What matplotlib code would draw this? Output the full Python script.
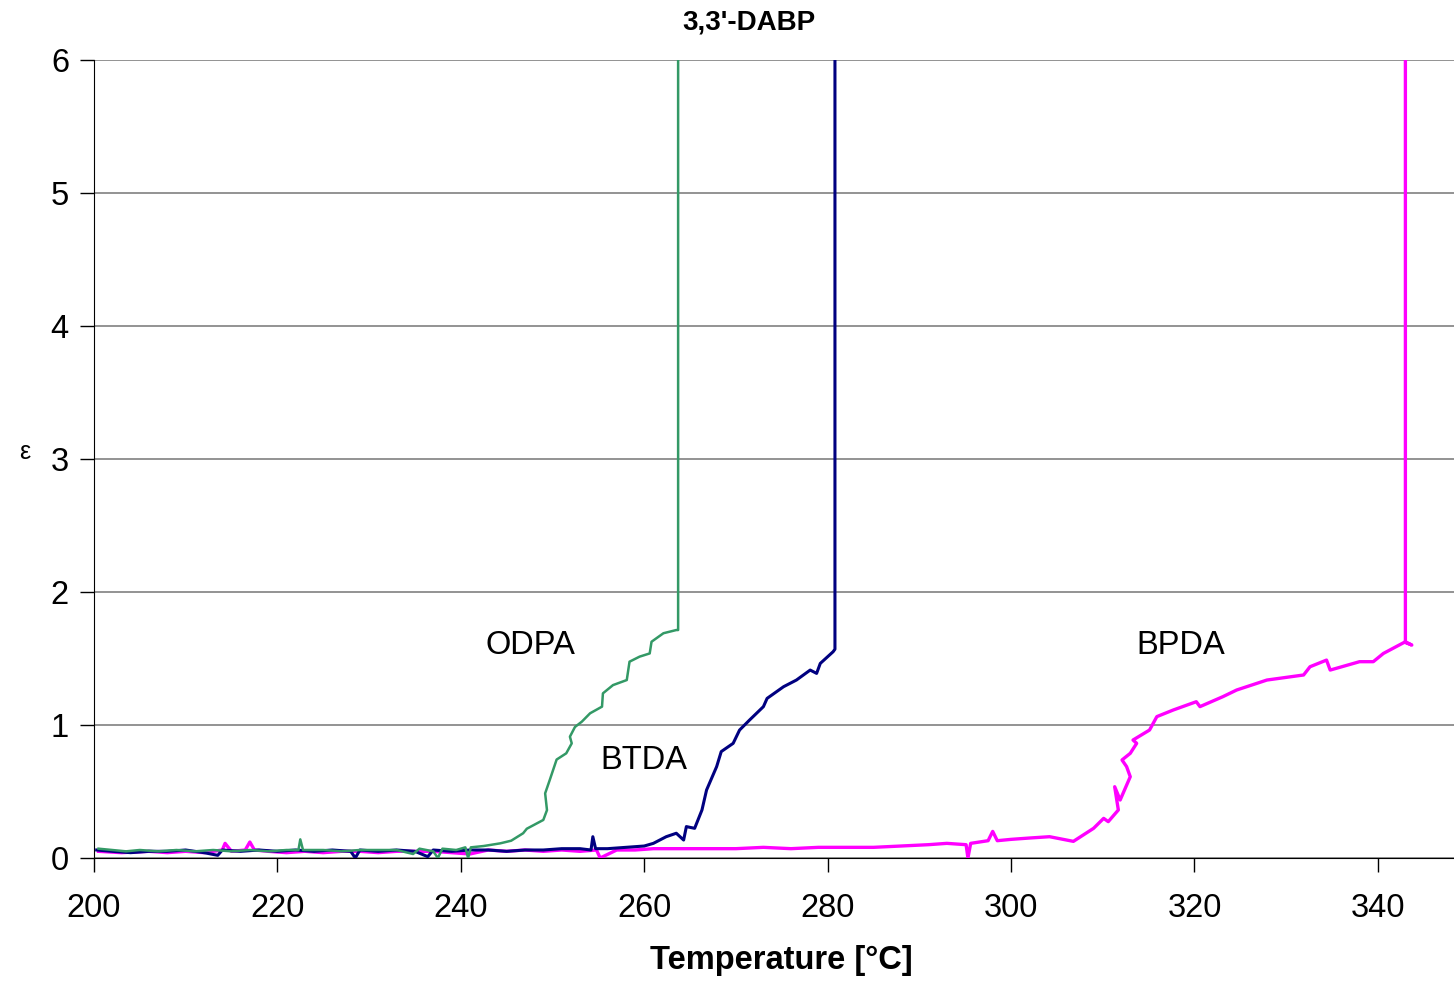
import matplotlib
matplotlib.use("Agg")
import matplotlib.pyplot as plt

# Chart data
odpa_t = [200.5, 202, 203.5, 205, 207, 209, 211, 213, 215, 217, 219, 221,
          222.3, 222.5, 222.8, 225, 227, 229, 231, 233, 234.8, 235.5, 237,
          237.5, 238, 239.5, 240.5, 240.8, 241.1, 242.5, 244.3, 245.5,
          246.8, 247.2, 249.0, 249.4, 249.2, 249.7, 250.45, 251.5, 252.1,
          251.9, 252.45, 253.2, 254.1, 255.4, 255.5, 256.6, 258.1, 258.4,
          259.5, 260.6, 260.8, 262.1, 263.5, 263.7, 263.7]
odpa_eps = [0.07, 0.06, 0.05, 0.06, 0.05, 0.06, 0.05, 0.06, 0.05, 0.06,
            0.05, 0.06, 0.06, 0.14, 0.06, 0.06, 0.05, 0.06, 0.06, 0.06,
            0.03, 0.07, 0.05, 0.0, 0.07, 0.06, 0.08, 0.0, 0.08, 0.09, 0.11,
            0.13, 0.186, 0.22, 0.286, 0.36, 0.486, 0.586, 0.74, 0.787,
            0.862, 0.912, 0.985, 1.025, 1.088, 1.138, 1.238, 1.30, 1.338,
            1.476, 1.514, 1.538, 1.626, 1.69, 1.714, 1.714, 6.5]

btda_t = [200.3, 202, 204, 206, 208, 210, 212, 213.5, 214, 216, 218, 220,
          222, 224, 226, 228, 228.5, 229, 231, 233, 235, 236.4, 237, 239,
          241, 243, 245, 247, 249, 251, 253, 254.2, 254.4, 254.7, 256, 258,
          260, 261.0, 262.4, 263.5, 264.3, 264.6, 265.5, 266.3, 266.8,
          267.9, 268.4, 269.7, 270.4, 271.5, 273.0, 273.4, 275.2, 276.6,
          278.1, 278.8, 279.2, 280.6, 280.8, 280.8]
btda_eps = [0.06, 0.05, 0.04, 0.05, 0.05, 0.06, 0.04, 0.02, 0.06, 0.05,
            0.06, 0.05, 0.06, 0.05, 0.06, 0.05, 0.0, 0.06, 0.05, 0.06, 0.05,
            0.01, 0.06, 0.05, 0.06, 0.06, 0.05, 0.06, 0.06, 0.07, 0.07, 0.06,
            0.16, 0.07, 0.07, 0.08, 0.09, 0.11, 0.16, 0.186, 0.135, 0.236,
            0.223, 0.361, 0.511, 0.687, 0.80, 0.862, 0.962, 1.038, 1.138,
            1.2, 1.288, 1.338, 1.413, 1.388, 1.463, 1.551, 1.57, 6.5]

bpda_t = [200.5, 203, 206, 208, 210, 212, 214, 214.3, 215, 216.5, 217,
          217.5, 219, 221, 223, 225, 227, 229, 231, 233, 235, 237, 239, 241,
          243, 245, 247, 249, 251, 253, 254.8, 255.2, 257, 259, 261, 263,
          265, 267, 270, 273, 276, 279, 282, 285, 288, 291, 293, 295.1,
          295.3, 295.6, 297.5, 298, 298.5, 300, 302, 304.2, 306.8, 309.0,
          310.1, 310.6, 311.7, 311.3, 311.9, 313.0, 312.6, 312.1, 313.0,
          313.7, 313.3, 315.1, 315.9, 317.7, 320.2, 320.6, 323.1, 324.6,
          327.9, 331.9, 332.6, 334.4, 334.8, 338.0, 339.5, 340.6, 343.0,
          343.7, 343.0, 343.0]
bpda_eps = [0.05, 0.04, 0.05, 0.04, 0.05, 0.04, 0.06, 0.11, 0.05, 0.06,
            0.12, 0.06, 0.05, 0.04, 0.05, 0.04, 0.05, 0.05, 0.04, 0.05,
            0.05, 0.05, 0.04, 0.03, 0.06, 0.05, 0.06, 0.05, 0.06, 0.05, 0.06,
            0.0, 0.06, 0.06, 0.07, 0.07, 0.07, 0.07, 0.07, 0.08, 0.07, 0.08,
            0.08, 0.08, 0.09, 0.1, 0.11, 0.1, 0.0, 0.11, 0.13, 0.2, 0.13,
            0.14, 0.15, 0.16, 0.125, 0.223, 0.298, 0.273, 0.361, 0.536,
            0.436, 0.611, 0.687, 0.737, 0.787, 0.862, 0.887, 0.962, 1.063,
            1.113, 1.175, 1.138, 1.213, 1.263, 1.338, 1.376, 1.438, 1.488,
            1.413, 1.476, 1.476, 1.538, 1.626, 1.601, 1.62, 6.5]

series_labels = ["ODPA", "BTDA", "BPDA"]
label_pos = [(247.6, 1.6), (260.0, 0.73), (318.5, 1.6)]

plt.rcParams["font.family"] = ["Liberation Sans", "DejaVu Sans"]

fig = plt.figure(figsize=(14.54, 9.81), dpi=100)
ax = fig.add_axes([0.0646, 0.1254, 0.9354, 0.8134])

ax.plot(bpda_t, bpda_eps, color="#ff00ff", lw=2.4, zorder=3)
ax.plot(btda_t, btda_eps, color="#000080", lw=2.2, zorder=4)
ax.plot(odpa_t, odpa_eps, color="#339966", lw=1.8, zorder=5)

for name, (x, y) in zip(series_labels, label_pos):
    ax.text(x, y, name, fontsize=23.5, ha="center", va="center", zorder=6)

ax.set_xlim(200, 348.3)
ax.set_ylim(0, 6)
ax.set_xticks(range(200, 341, 20))
ax.set_yticks(range(0, 7))
ax.grid(axis="y", color="#808080", lw=1.2)
ax.set_axisbelow(True)

for side in ["top", "right"]:
    ax.spines[side].set_visible(False)
ax.spines["left"].set_color("black")
ax.spines["bottom"].set_color("black")
ax.tick_params(axis="both", direction="out", length=10, width=1,
               labelsize=23.5, color="black")
ax.tick_params(axis="x", pad=15)
ax.tick_params(axis="y", pad=8)

fig.text(749 / 1454, 1 - 23 / 981, "3,3'-DABP", fontsize=20,
         fontweight="bold", ha="center", va="center")
fig.text(781 / 1454, 1 - 961 / 981, "Temperature [°C]", fontsize=23.5,
         fontweight="bold", ha="center", va="center")
fig.text(25 / 1454, 1 - 452 / 981, "ε", fontsize=18, ha="center",
         va="center")

fig.savefig("out.png", dpi=100)
